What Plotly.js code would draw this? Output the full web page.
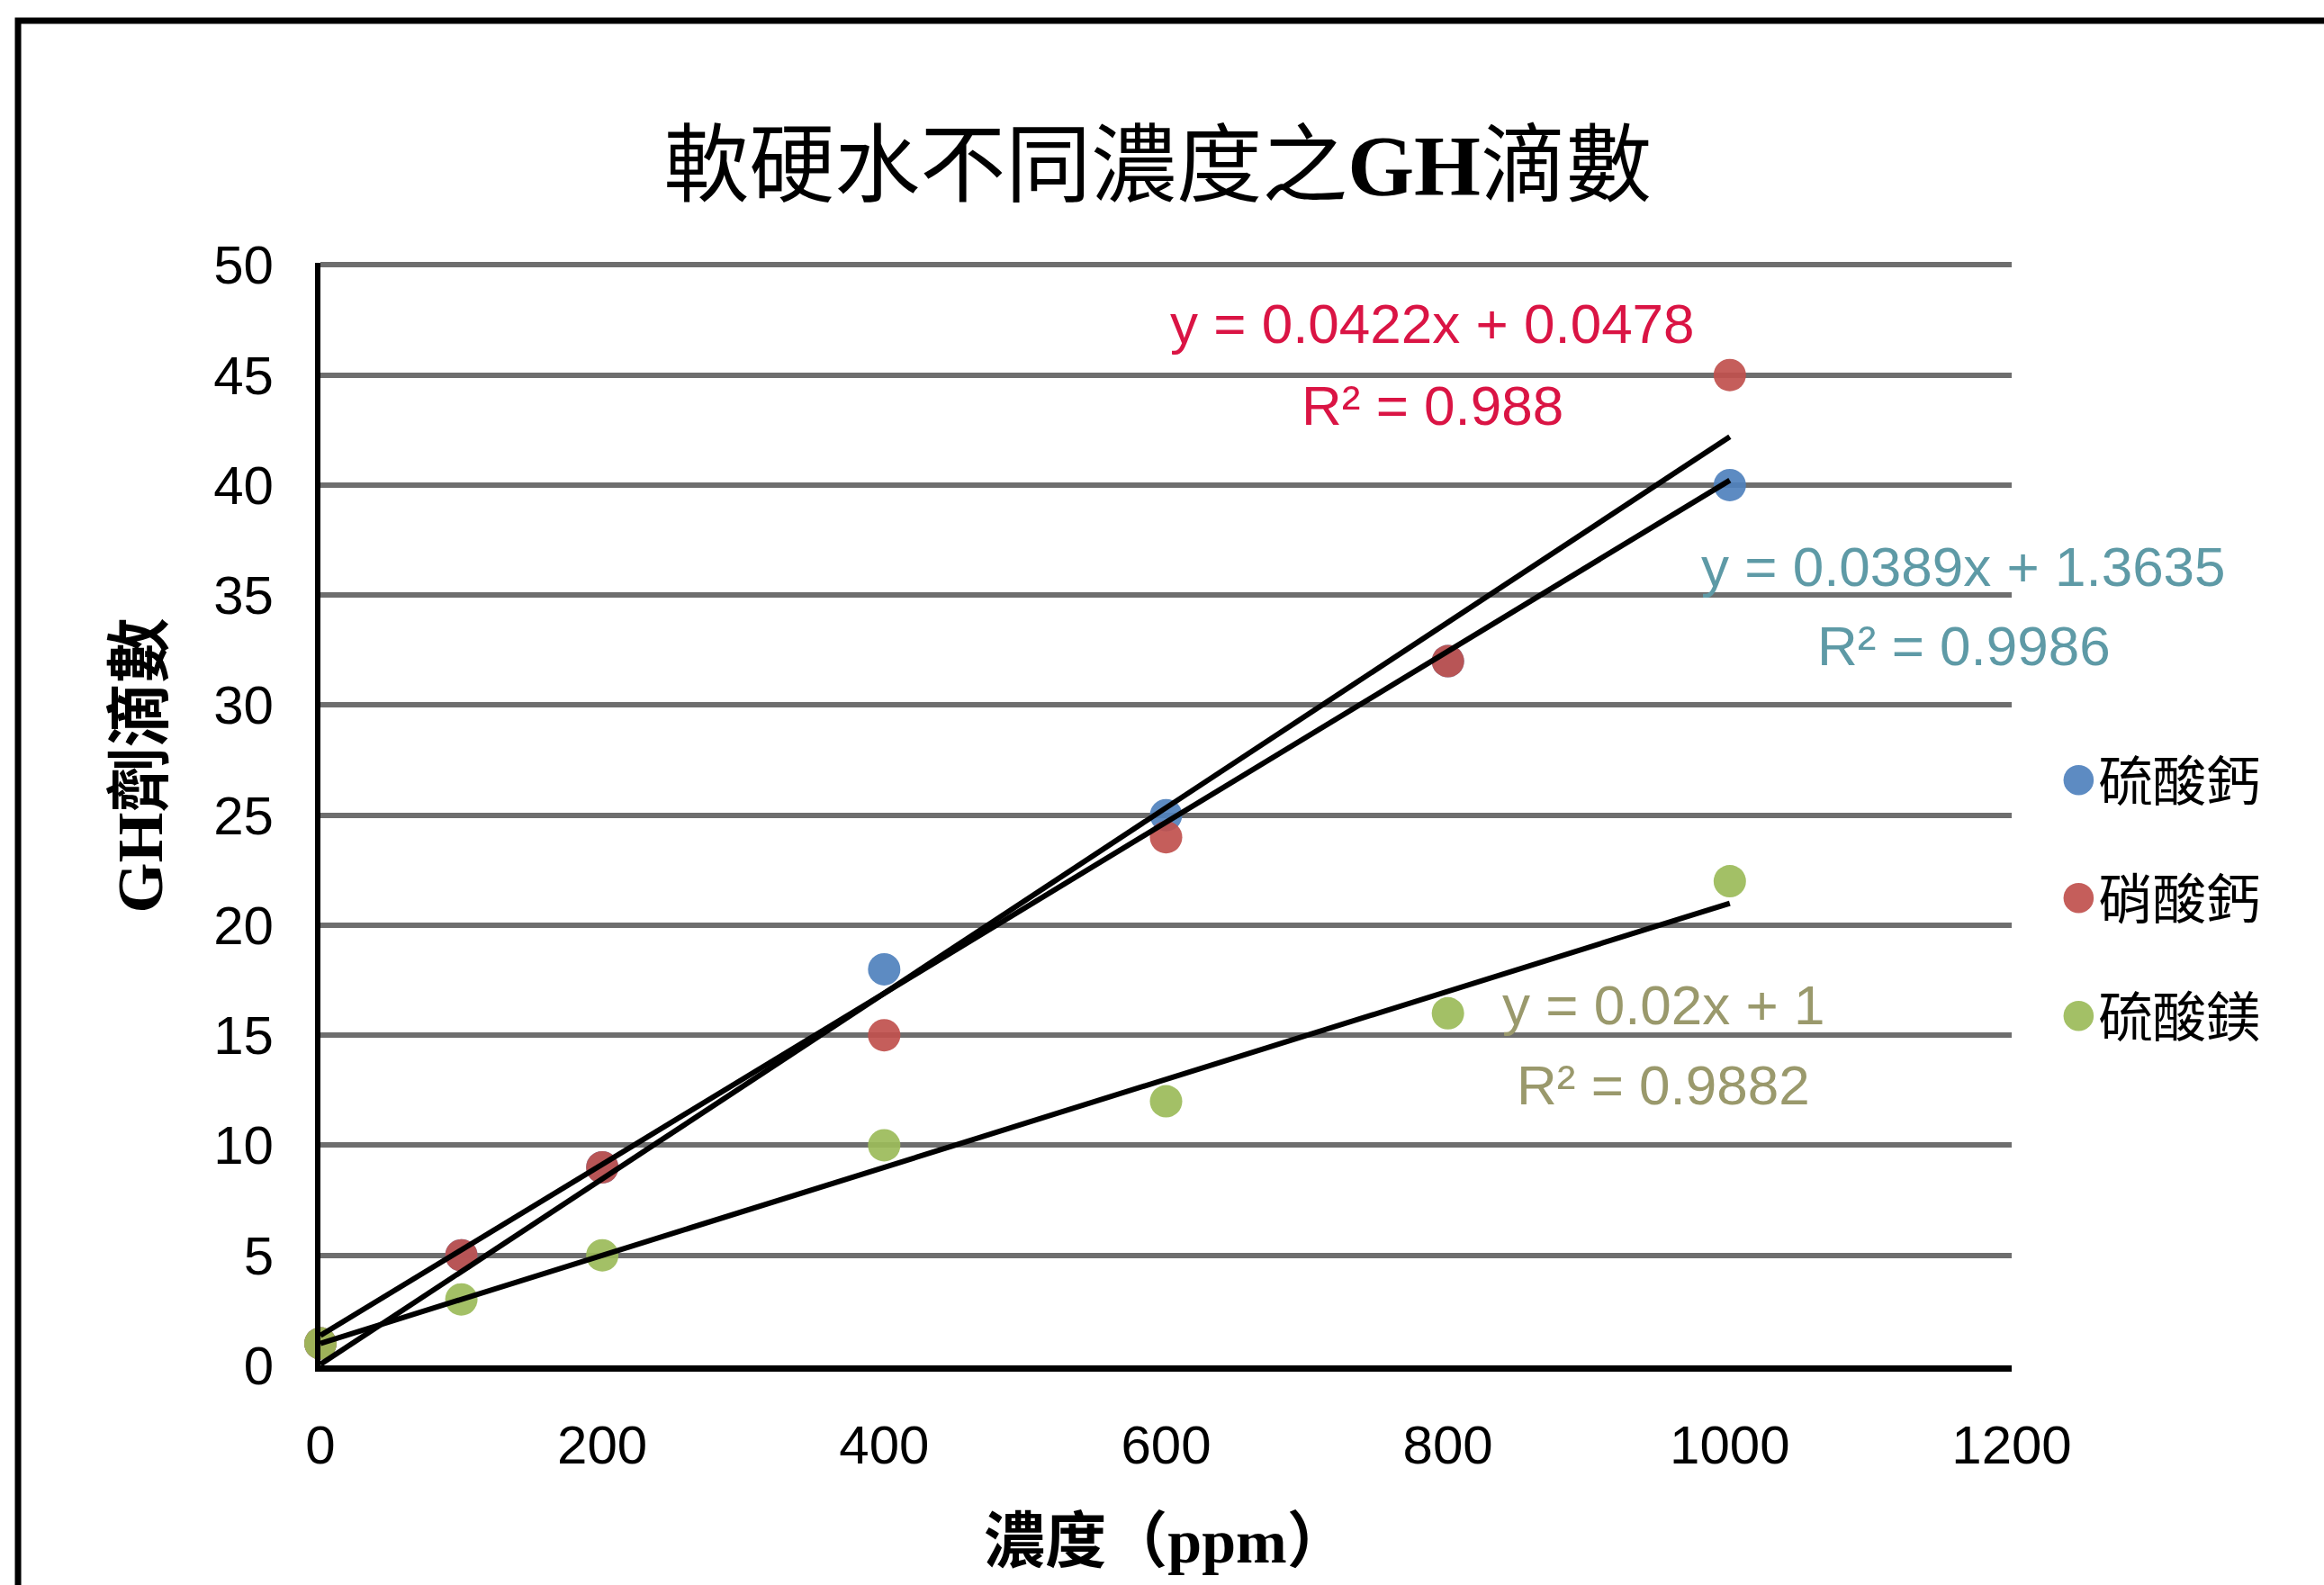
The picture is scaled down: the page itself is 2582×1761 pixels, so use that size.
<!DOCTYPE html>
<html><head><meta charset="utf-8">
<script src="https://cdn.plot.ly/plotly-3.0.1.min.js"></script>
<style>html,body{margin:0;padding:0;background:#fff}</style>
</head><body><div id="chart" style="width:2582px;height:1761px"></div>
<script>
// ---- data ----
const concentration = [0, 100, 200, 400, 600, 800, 1000];
const seriesNames = ['硫酸鈣', '硝酸鈣', '硫酸鎂'];
const caSulfate = [1, 5, 9, 18, 25, 32, 40];
const caNitrate = [1, 5, 9, 15, 24, 32, 45];
const mgSulfate = [1, 3, 5, 10, 12, 16, 22];
const equationLabels = ['y = 0.0389x + 1.3635', 'y = 0.0422x + 0.0478', 'y = 0.02x + 1'];
const r2Labels = ['R² = 0.9986', 'R² = 0.988', 'R² = 0.9882'];
const xTickVals = [0, 200, 400, 600, 800, 1000, 1200];
const yTickVals = [0, 5, 10, 15, 20, 25, 30, 35, 40, 45, 50];

// ---- styles ----
const markerColors = ['#4F81BD', '#C0504D', '#9BBB59'];
const labelColors = ['#5E9AA6', '#DA1444', '#9A996C'];
const numFont = 'Liberation Sans, Arial, sans-serif';
const cjkFont = 'Noto Sans CJK TC, Noto Sans CJK SC, sans-serif';

function fit(xs, ys) {
  const n = xs.length;
  const mx = xs.reduce((a, b) => a + b, 0) / n;
  const my = ys.reduce((a, b) => a + b, 0) / n;
  let sxy = 0, sxx = 0;
  for (let i = 0; i < n; i++) { sxy += (xs[i] - mx) * (ys[i] - my); sxx += (xs[i] - mx) ** 2; }
  const m = sxy / sxx;
  return { m: m, b: my - m * mx };
}

const allSeries = [caSulfate, caNitrate, mgSulfate];
const traces = [];
allSeries.forEach((ys, i) => {
  traces.push({
    type: 'scatter', mode: 'markers', name: seriesNames[i],
    x: concentration, y: ys, cliponaxis: false,
    legendgroup: 'g' + i,
    marker: { color: markerColors[i], size: 36, opacity: 0.92, line: { width: 0 } }
  });
});
allSeries.forEach((ys, i) => {
  const f = fit(concentration, ys);
  const xs = [Math.min(...concentration), Math.max(...concentration)];
  traces.push({
    type: 'scatter', mode: 'lines', showlegend: false, hoverinfo: 'skip',
    x: xs, y: xs.map(v => f.m * v + f.b), cliponaxis: false,
    line: { color: '#000000', width: 6 }
  });
});

const annPos = [
  { x: 1166, y1: 36.3, y2: 32.7 },
  { x: 789, y1: 47.35, y2: 43.6 },
  { x: 953, y1: 16.4, y2: 12.75 }
];
const annotations = [];
annPos.forEach((p, i) => {
  annotations.push({ x: p.x, y: p.y1, xref: 'x', yref: 'y', text: equationLabels[i], showarrow: false,
    xanchor: 'center', yanchor: 'middle', font: { family: numFont, size: 62, color: labelColors[i] } });
  annotations.push({ x: p.x, y: p.y2, xref: 'x', yref: 'y', text: r2Labels[i], showarrow: false,
    xanchor: 'center', yanchor: 'middle', font: { family: numFont, size: 62, color: labelColors[i] } });
});

const layout = {
  width: 2582, height: 1761,
  paper_bgcolor: '#ffffff', plot_bgcolor: '#ffffff',
  margin: { l: 356, r: 347, t: 292, b: 244, pad: 0 },
  title: {
    text: '軟硬水不同濃度之<b><span style="font-family:Liberation Serif;font-size:95px">GH</span></b>滴數',
    font: { family: cjkFont, size: 95, color: '#000' },
    x: 0.495, xref: 'paper', xanchor: 'center',
    y: 0.8955, yref: 'container', yanchor: 'middle'
  },
  xaxis: {
    range: [0, 1200], tickvals: xTickVals, ticktext: xTickVals.map(String),
    showgrid: false, zeroline: false,
    showline: true, linecolor: '#000', linewidth: 7,
    ticks: '', ticklabelstandoff: 30,
    tickfont: { family: numFont, size: 60, color: '#000' },
    title: { text: '<b>濃度（<span style="font-family:Liberation Serif;font-size:68px">ppm</span>）</b>',
      font: { family: cjkFont, size: 68, color: '#000' }, standoff: 53 }
  },
  yaxis: {
    range: [0, 50.1], tickvals: yTickVals, ticktext: yTickVals.map(String),
    showgrid: true, gridcolor: '#6e6e6e', gridwidth: 6, zeroline: false,
    showline: true, linecolor: '#000', linewidth: 6,
    ticks: '', ticklabelstandoff: 34,
    tickfont: { family: numFont, size: 60, color: '#000' },
    title: { text: '<b>\u3000\u2002<span style="font-family:Liberation Serif;font-size:72px">GH</span>劑滴數</b>',
      font: { family: cjkFont, size: 72, color: '#000' }, standoff: 35 }
  },
  showlegend: true,
  legend: {
    x: 1.030, xanchor: 'left', y: 0.568, yanchor: 'top',
    traceorder: 'grouped', tracegroupgap: 50,
    font: { family: cjkFont, size: 60, color: '#000' },
    bgcolor: 'rgba(0,0,0,0)', borderwidth: 0, itemsizing: 'trace'
  },
  annotations: annotations,
  shapes: [{
    type: 'rect', xref: 'paper', yref: 'paper',
    x0: -0.1788, x1: 1.2, y0: -0.25, y1: 1.2195,
    line: { color: '#000', width: 7 }, fillcolor: 'rgba(0,0,0,0)', layer: 'above'
  }]
};

Plotly.newPlot('chart', traces, layout, { staticPlot: true, displayModeBar: false }).then(gd => {
  // enlarge legend symbols to match the chart's marker size
  gd.querySelectorAll('.legend .legendpoints path.scatterpts').forEach(p => {
    p.setAttribute('transform', 'translate(18,0) scale(2.1)');
  });
});
</script></body></html>
